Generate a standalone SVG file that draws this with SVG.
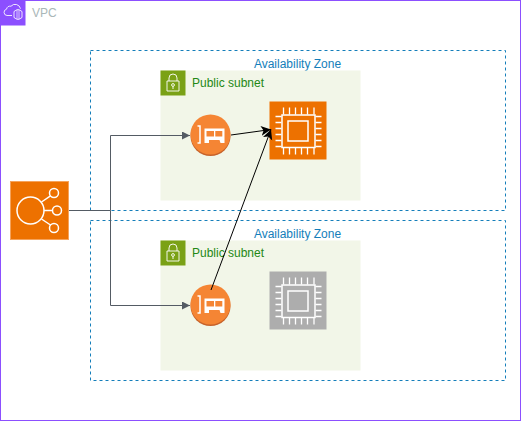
<svg xmlns="http://www.w3.org/2000/svg" width="521" height="421" viewBox="0 0 521 421">
<style>
.az{fill:none;stroke:#147eba;stroke-dasharray:3 3}
.sn{fill:#f2f6e8}
.t{font:12px "Liberation Sans",Helvetica,Arial,sans-serif}
.azt{fill:#147eba;text-anchor:middle}
.snt{fill:#248814}
.w{fill:none;stroke:#fff;stroke-width:1.3}
.conn{fill:none;stroke:#545b64}
.blk{fill:none;stroke:#000}
</style>
<defs>
<marker id="ag" markerWidth="9" markerHeight="8" refX="8" refY="4" orient="auto" markerUnits="userSpaceOnUse"><path d="M0 0L8 4L0 8z" fill="#545b64"/></marker>
<marker id="ab" markerWidth="11" markerHeight="11" refX="10" refY="5.500" orient="auto" markerUnits="userSpaceOnUse"><path d="M0 .5L10 5.500L0 10.500L2.500 5.500z" fill="#000"/></marker>
<g id="lock"><rect width="25" height="25" fill="#7aa116"/><path class="w" style="stroke-width:.9" d="M6.500 10.500h12v10h-12zM8.500 10.500v-3a4 4 0 0 1 8 0v3"/><circle cx="12.500" cy="14.500" r="1.400" class="w" style="stroke-width:.9"/><path class="w" style="stroke-width:.9" d="M12.500 16v2.500"/></g>
<g id="chip"><path class="w" style="stroke-width:1.500" d="M12.500 13.500h33v32.500h-33zM18.500 19.500h20v20h-20z"/><path class="w" d="M14 6v7M20 6v7M26 6v7M32 6v7M38 6v7M44.500 6v7M14 46v7M20 46v7M26 46v7M32 46v7M38 46v7M44.500 46v7M6 15h6M6 21h6M6 27h6M6 33h6M6 39h6M6 45h6M46 15h6M46 21h6M46 27h6M46 33h6M46 39h6M46 45h6"/></g>
<g id="eni"><circle cx="20" cy="21.500" r="20" fill="#c7622a"/><circle cx="20" cy="20" r="20" fill="#f58534"/><path class="w" style="stroke-width:1.500" d="M7 11.500h2.500v17h-2.500"/><path d="M14 14h20v14.500h-4l-1-3h-10.500v3h-4.500z" fill="#fff"/><rect x="16" y="16.500" width="7.500" height="5.500" fill="#f58534"/><rect x="24.800" y="16.500" width="7" height="5.500" fill="#f58534"/></g>
</defs>
<rect x=".5" y=".5" width="520" height="420" fill="#fff" stroke="#8c4fff"/>
<g id="vpc"><rect width="25.500" height="25.500" fill="#8c4fff"/><path d="M12 15.500h-5a3.200 3.200 0 0 1-.5-6.300a4 4 0 0 1 4.500-3a5.500 5.500 0 0 1 9.500 2.500" fill="none" stroke="#fff" stroke-width="1" opacity=".85"/><path d="M14 11.500l3-1.800h2l3 1.800v6l-3 1.800h-2l-3-1.800z" fill="none" stroke="#fff" stroke-width="1" opacity=".85"/><path d="M17 10v9M19 10v9" stroke="#fff" stroke-width=".8" opacity=".85"/><text x="32" y="17" class="t" fill="#aab7b8">VPC</text></g>
<g id="az1"><rect class="az" x="90.500" y="50.500" width="415" height="160"/><text x="297.500" y="68" class="t azt">Availability Zone</text></g>
<g id="az2"><rect class="az" x="90.500" y="220.500" width="415" height="160"/><text x="297.500" y="238" class="t azt">Availability Zone</text></g>
<g id="subnet1"><rect class="sn" x="160.500" y="70.500" width="200" height="130"/><use href="#lock" x="160.500" y="70.500"/><text x="192" y="87" class="t snt">Public subnet</text></g>
<g id="subnet2"><rect class="sn" x="160.500" y="240.500" width="200" height="130"/><use href="#lock" x="160.500" y="240.500"/><text x="192" y="257" class="t snt">Public subnet</text></g>
<g id="elb"><rect x="10.500" y="181.500" width="58" height="58" fill="#ed7100" stroke="#f5a35c"/><circle cx="30.500" cy="210.500" r="13.500" class="w" style="stroke-width:1.500"/><circle cx="54" cy="193" r="4.500" class="w" style="stroke-width:1.500"/><circle cx="57" cy="210.500" r="4.500" class="w" style="stroke-width:1.500"/><circle cx="54" cy="228" r="4.500" class="w" style="stroke-width:1.500"/><path class="w" style="stroke-width:1.500" d="M41.500 202L50.500 195.800M44 210.500H52.500M41.500 219L50.500 225"/></g>
<g id="ec2-1"><rect x="269.500" y="101.500" width="57" height="58" fill="#ed7100"/><use href="#chip" x="269.500" y="101.500"/></g>
<g id="ec2-2"><rect x="269.500" y="271.500" width="57" height="58" fill="#adadad"/><use href="#chip" x="269.500" y="271.500"/></g>
<g id="eni1"><use href="#eni" x="190.500" y="114.500"/></g>
<g id="eni2"><use href="#eni" x="190.500" y="284.500"/></g>
<g id="connectors">
<path class="conn" d="M69 210.500H110.500V135.500H190" marker-end="url(#ag)"/>
<path class="conn" d="M110.500 210.500V305.500H190" marker-end="url(#ag)"/>
<path class="blk" d="M231 135L271 129.500" marker-end="url(#ab)"/>
<path class="blk" d="M211 290L271 129.500" marker-end="url(#ab)"/>
</g>
</svg>
